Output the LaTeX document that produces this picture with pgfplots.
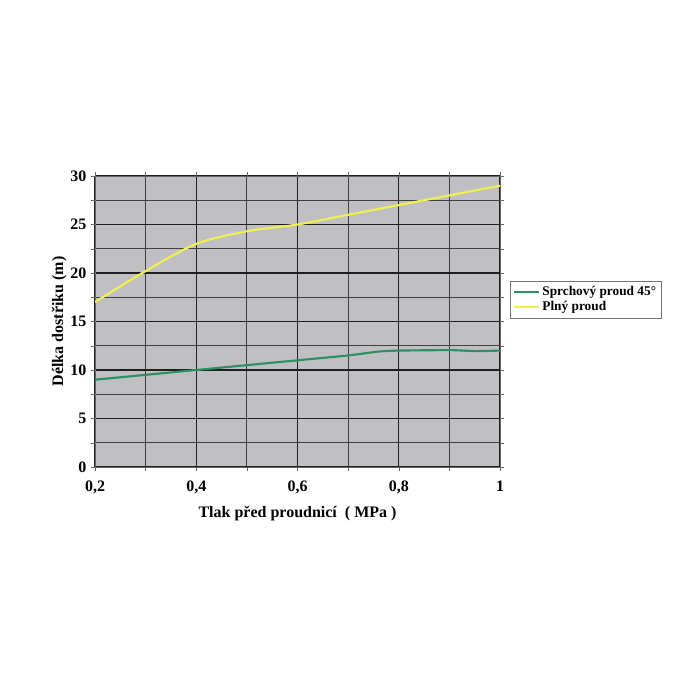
\documentclass[border=0pt]{standalone}
\usepackage{pgfplots}
\pgfplotsset{compat=1.18}
\usepackage{fontspec}
\setmainfont{Liberation Serif}
\definecolor{plotbg}{HTML}{C0C0C4}
\definecolor{sprch}{HTML}{2E9060}
\definecolor{plny}{HTML}{F0F050}
\begin{document}
\begin{tikzpicture}[x=0.75pt,y=0.75pt]
% canvas: plot area sits at 95..500 px across, 176..467 px down
\fill[white] (-95,-233) rectangle (605,467);
\begin{axis}[
    at={(0,0)}, anchor=south west,
    scale only axis,
    width=303.75pt, height=218.25pt,
    xmin=0.2, xmax=1, ymin=0, ymax=30,
    xtick={0.2,0.4,0.6,0.8,1},
    minor xtick={0.3,0.5,0.7,0.9},
    ytick={0,5,...,30},
    minor ytick={2.5,7.5,...,27.5},
    /pgf/number format/use comma,
    /pgf/number format/assume math mode=true,
    xticklabel={\pgfmathprintnumber[fixed,precision=1,use comma]{\tick}},
    ticklabel style={font=\bfseries\fontsize{12}{14}\selectfont},
    xticklabel style={yshift=-4pt},
    tick align=outside,
    major tick length=3pt, minor tick length=3pt,
    tick style={color=black!60},
    grid=both,
    major grid style={black!88, line width=0.8pt},
    minor grid style={black!75, line width=0.7pt},
    axis background/.style={fill=plotbg},
    axis line style={black!60, line width=0.7pt},
    xlabel={Tlak před proudnicí ~( MPa )},
    ylabel={Délka dostřiku (m)},
    label style={font=\bfseries\fontsize{12}{14}\selectfont},
    xlabel style={yshift=-2pt},
    ylabel style={yshift=-4pt},
    legend style={at={(1.025,0.64)}, anchor=north west,
        draw=black!55, fill=white, font=\bfseries\fontsize{10}{12}\selectfont,
        row sep=-1pt, inner sep=2pt},
    legend cell align=left,
    legend image code/.code={\draw[#1, line width=1.5pt] (0cm,0cm) -- (0.65cm,0cm);},
]
\addplot[sprch, line width=1.6pt, smooth, tension=0.4] coordinates {
  (0.2,9.0) (0.3,9.5) (0.4,10.0) (0.5,10.5) (0.6,11.0) (0.7,11.5)
  (0.76,11.9) (0.8,12.0) (0.9,12.05) (0.95,11.95) (1.0,12.0)
};
\addplot[plny, line width=1.6pt, smooth, tension=0.5] coordinates {
  (0.2,17.0) (0.3,20.2) (0.4,23.0) (0.5,24.3) (0.6,25.0) (0.7,26.0)
  (0.8,27.0) (0.9,28.0) (1.0,29.0)
};
\legend{Sprchový proud 45°, Plný proud}
\end{axis}
\end{tikzpicture}
\end{document}
